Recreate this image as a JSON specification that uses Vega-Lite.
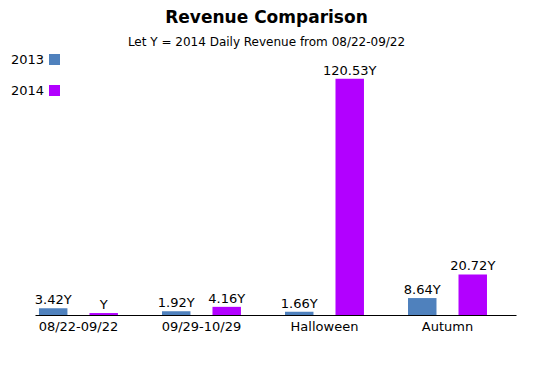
{
  "$schema": "https://vega.github.io/schema/vega-lite/v6.json",
  "autosize": {"type": "none"},
  "padding": {"left": 35, "top": 70, "right": 32, "bottom": 64},
  "width": 481,
  "height": 245,
  "background": "white",
  "title": {
    "text": "Revenue Comparison",
    "subtitle": "Let Y = 2014 Daily Revenue from 08/22-09/22",
    "font": "DejaVu Sans",
    "fontSize": 17,
    "fontWeight": "bold",
    "color": "black",
    "subtitleFont": "DejaVu Sans",
    "subtitleFontSize": 12,
    "subtitleColor": "black",
    "subtitlePadding": 10,
    "anchor": "middle",
    "dx": -9,
    "offset": 4
  },
  "data": {
    "values": [
      {"period": "08/22-09/22", "year": "2013", "value": 3.42, "label": "3.42Y"},
      {"period": "08/22-09/22", "year": "2014", "value": 1, "label": "Y"},
      {"period": "09/29-10/29", "year": "2013", "value": 1.92, "label": "1.92Y"},
      {"period": "09/29-10/29", "year": "2014", "value": 4.16, "label": "4.16Y"},
      {"period": "Halloween", "year": "2013", "value": 1.66, "label": "1.66Y"},
      {"period": "Halloween", "year": "2014", "value": 120.53, "label": "120.53Y"},
      {"period": "Autumn", "year": "2013", "value": 8.64, "label": "8.64Y"},
      {"period": "Autumn", "year": "2014", "value": 20.72, "label": "20.72Y"}
    ]
  },
  "encoding": {
    "x": {
      "field": "period",
      "type": "nominal",
      "sort": null,
      "scale": {"paddingInner": 0.358, "paddingOuter": 0.134, "align": 0.12},
      "axis": {
        "title": null,
        "labelAngle": 0,
        "ticks": false,
        "tickSize": 0,
        "labelPadding": 5,
        "labelFont": "DejaVu Sans",
        "labelFontSize": 13,
        "labelColor": "black",
        "domainColor": "black",
        "domainWidth": 1,
        "grid": false
      }
    },
    "xOffset": {
      "field": "year",
      "type": "nominal",
      "scale": {"paddingInner": 0.436, "paddingOuter": 0}
    },
    "y": {
      "field": "value",
      "type": "quantitative",
      "scale": {"domain": [0, 125], "nice": false},
      "axis": null
    }
  },
  "layer": [
    {
      "mark": {"type": "bar"},
      "encoding": {
        "color": {
          "field": "year",
          "type": "nominal",
          "scale": {"domain": ["2013", "2014"], "range": ["#4F81BD", "#B200FF"]},
          "legend": {
            "orient": "none",
            "legendX": 13,
            "legendY": -17,
            "title": null,
            "symbolType": "square",
            "symbolSize": 121,
            "symbolStrokeWidth": 0,
            "labelAlign": "right",
            "labelOffset": -17,
            "labelFont": "DejaVu Sans",
            "labelFontSize": 13,
            "labelColor": "black",
            "rowPadding": 17,
            "padding": 0
          }
        }
      }
    },
    {
      "mark": {"type": "text", "baseline": "alphabetic", "dy": -4, "font": "DejaVu Sans", "fontSize": 13, "color": "black"},
      "encoding": {"text": {"field": "label"}}
    }
  ],
  "config": {"view": {"stroke": null}}
}
